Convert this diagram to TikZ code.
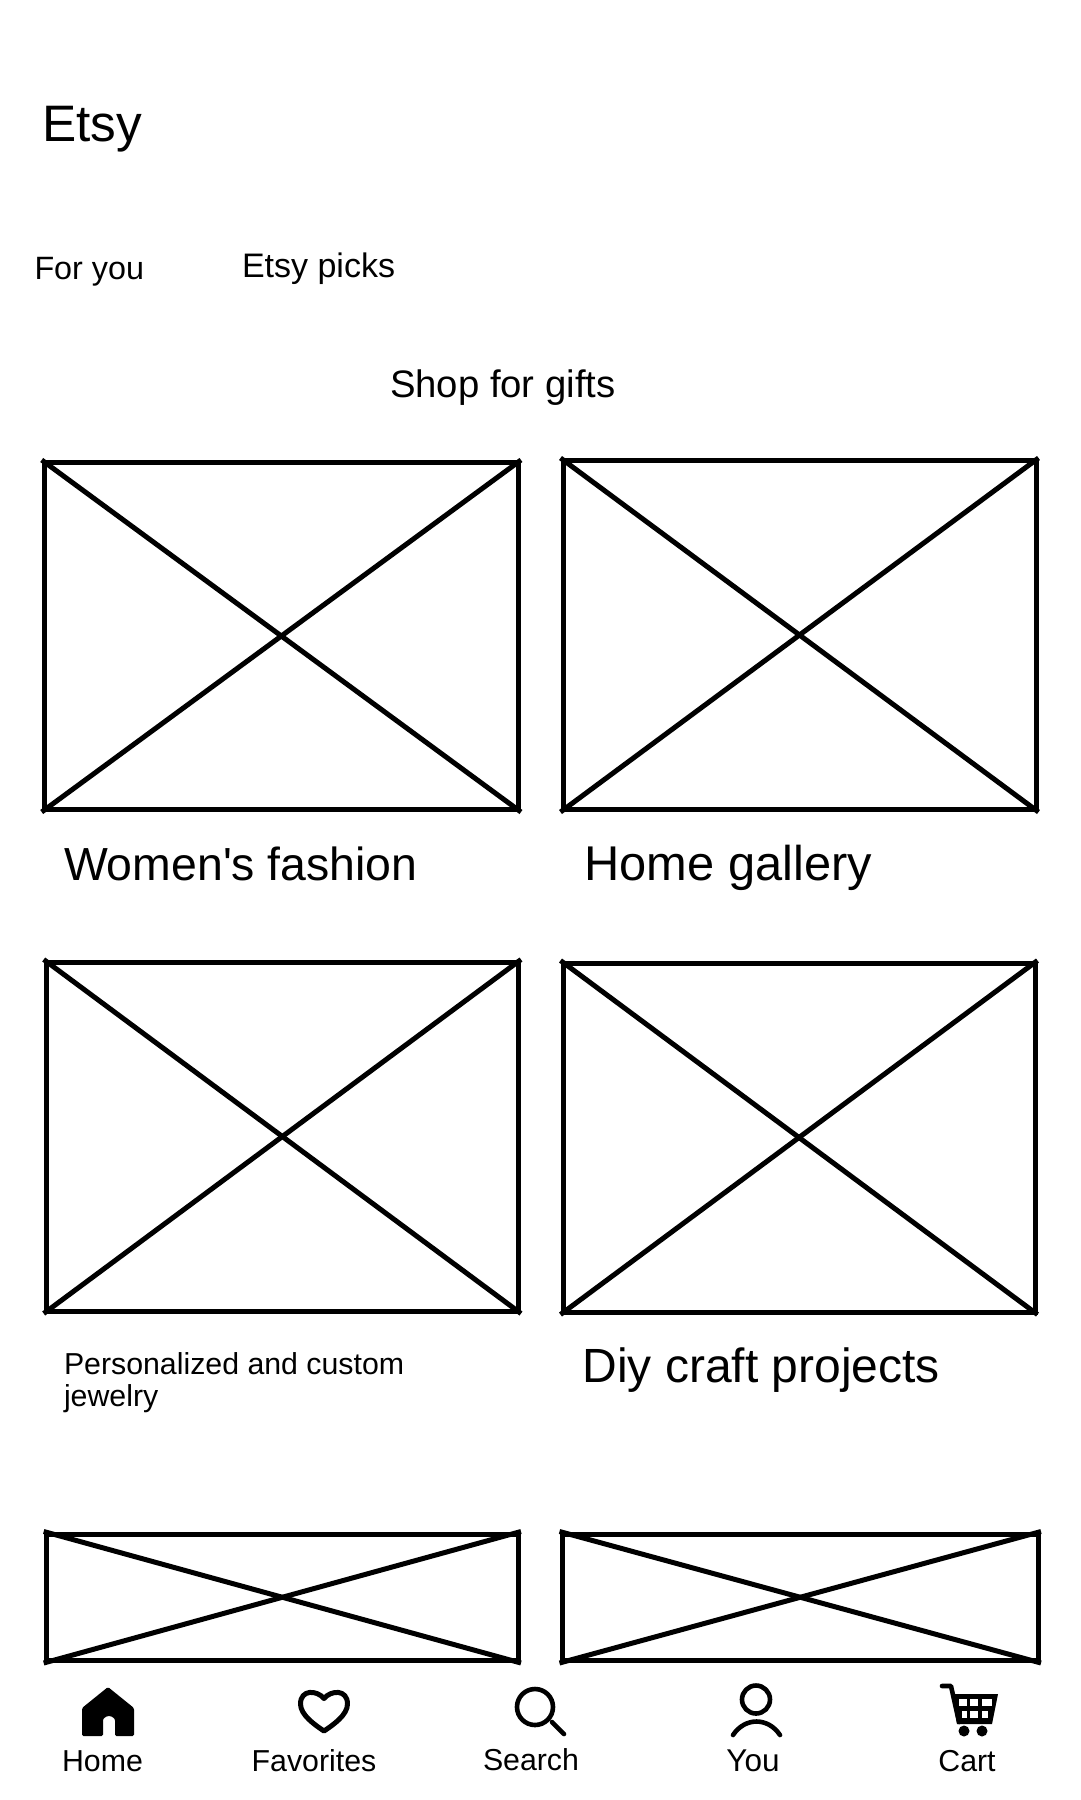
\documentclass[tikz,border=0pt]{standalone}
\usepackage{fontspec}
\setmainfont{Liberation Sans}
\newcommand{\fsz}[1]{\fontsize{#1}{#1}\selectfont}
\tikzset{
  x=1pt,y=-1pt,
  wire/.style={draw=black,line width=5pt,miter limit=10},
  lbl/.style={anchor=base west,inner sep=0pt,outer sep=0pt,text=black},
  navlbl/.style={anchor=base,inner sep=0pt,outer sep=0pt,text=black,font=\fsz{30.3}},
  icon/.style={draw=black,line width=4.6pt,line cap=round,line join=round},
}
\newcommand{\placeholder}[5]{%
  \node[wire,rectangle,inner sep=0pt,minimum width=#4-#2,minimum height=#5-#3,anchor=north west] (#1) at (#2,#3) {};
  \draw[wire] (#1.north west) -- (#1.south east);
  \draw[wire] (#1.north east) -- (#1.south west);
}
\begin{document}
\begin{tikzpicture}
\useasboundingbox (0,0) rectangle (1080,1800);
\fill[white] (0,0) rectangle (1080,1800);
\placeholder{a}{41.7}{460}{516}{807}
\placeholder{b}{560.5}{458}{1033.5}{807}
\placeholder{c}{43.7}{959.5}{516}{1308.5}
\placeholder{d}{560.5}{960.5}{1032.5}{1309.5}
\placeholder{e}{43.7}{1531.5}{516}{1658}
\placeholder{f}{559.5}{1531.5}{1036}{1658}
\node[lbl,font=\fsz{51.3}] (t1) at (42,141) {Etsy};
\node[lbl,font=\fsz{32.3}] (t2) at (34.5,279) {For you};
\node[lbl,font=\fsz{34}] (t3) at (242,277) {Etsy picks};
\node[lbl,font=\fsz{38.3}] (t4) at (390,397) {Shop for gifts};
\node[lbl,font=\fsz{46.4}] (t5) at (64,880) {Women\textquotesingle s fashion};
\node[lbl,font=\fsz{48.8}] (t6) at (584.5,880) {Home gallery};
\node[lbl,font=\fsz{30.3}] (t7) at (64,1374) {Personalized and custom};
\node[lbl,font=\fsz{30.3}] (t8) at (64,1406) {jewelry};
\node[lbl,font=\fsz{48}] (t9) at (582.5,1382) {Diy craft projects};
\node[navlbl] (n1) at (102.5,1771) {Home};
\node[navlbl] (n2) at (314,1771) {Favorites};
\node[navlbl] (n3) at (531,1770) {Search};
\node[navlbl,font=\fsz{31.5}] (n4) at (753,1771) {You};
\node[navlbl] (n5) at (967,1771) {Cart};
% home
\fill[black,rounded corners=1.5pt] (108,1687) -- (134,1708) -- (134,1736) -- (115,1736) -- (115,1722) arc (0:-180:6) -- (103,1736) -- (82,1736) -- (82,1708) -- cycle;
% heart
\draw[icon,line width=5pt] (324,1698.5) .. controls (317,1690) and (300.5,1689) .. (300.5,1704) .. controls (300.5,1715) and (315,1725) .. (324,1731) .. controls (333,1725) and (347.5,1715) .. (347.5,1704) .. controls (347.5,1689) and (331,1690) .. (324,1698.5) -- cycle;
% search
\draw[icon] (535,1707) circle (18);
\draw[icon] (552,1722) -- (564,1734);
% you
\draw[icon] (756,1699.5) circle (14);
\draw[icon] (733,1735) .. controls (745,1717) and (768,1717) .. (780,1735);
% cart
\fill[black] (952,1694) -- (998,1694) -- (992,1724) -- (957,1724) -- cycle;
\fill[white] (959,1699) rectangle (967,1706);
\fill[white] (970,1699) rectangle (978,1706);
\fill[white] (982,1699) rectangle (992,1706);
\fill[white] (962,1711) rectangle (967,1718);
\fill[white] (970,1711) rectangle (978,1718);
\fill[white] (982,1711) rectangle (988,1718);
\draw[icon] (942,1686) -- (951,1686) -- (959,1722);
\fill[black] (964,1731) circle (5.5);
\fill[black] (982,1731) circle (5.5);
\end{tikzpicture}
\end{document}
